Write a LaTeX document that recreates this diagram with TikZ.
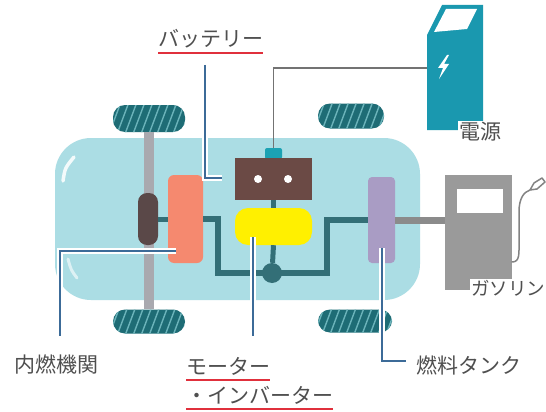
\documentclass[tikz,border=0pt]{standalone}
\usepackage{fontspec}
\setmainfont{Noto Sans CJK JP}
\usetikzlibrary{calc}

\definecolor{bodycyan}{HTML}{ABDDE4}
\definecolor{tire}{HTML}{1E6C75}
\definecolor{tirestripe}{HTML}{6BB3BA}
\definecolor{axlegray}{HTML}{A9A9AF}
\definecolor{gearbox}{HTML}{5A4848}
\definecolor{engine}{HTML}{F5896F}
\definecolor{pipecol}{HTML}{336F77}
\definecolor{batcol}{HTML}{6B4A45}
\definecolor{plugcol}{HTML}{1BA2B3}
\definecolor{motorcol}{HTML}{FFF000}
\definecolor{tankcol}{HTML}{A99CC4}
\definecolor{pumpcol}{HTML}{9A9A9A}
\definecolor{charger}{HTML}{1A98AF}
\definecolor{leadblue}{HTML}{3C6B98}
\definecolor{ulred}{HTML}{E0303C}
\definecolor{labelgray}{HTML}{4F4F4F}

\tikzset{
  tirebox/.style={rectangle, rounded corners=12pt, fill=tire, inner sep=0pt,
    path picture={\foreach \i in {-36,-28,...,80}
      \draw[tirestripe, line width=1.4pt]
        ($(path picture bounding box.south west)+(\i pt,-2pt)$) -- ++(12pt,32pt);}},
  blockbox/.style={rectangle, inner sep=0pt, draw=none},
  axlebar/.style={draw=axlegray, line width=10pt},
  pipeline/.style={draw=pipecol, line width=6pt, line join=miter},
  shortlink/.style={draw=pipecol, line width=5pt},
  gaspipe/.style={draw=pumpcol!90!black, line width=7pt},
  hose/.style={draw=pumpcol!85!black, line width=1.5pt, line cap=round},
  wire/.style={draw=black!55, line width=1.3pt},
  leader/.style={draw=leadblue, line width=2.6pt,
    preaction={draw=white, line width=5.6pt}},
  lbl/.style={text=labelgray, inner sep=0pt, font=\fontsize{21pt}{24pt}\selectfont},
  uline/.style={draw=ulred, line width=2.4pt},
  dot/.style={circle, fill=white, minimum size=8pt, inner sep=0pt}
}

\begin{document}
\begin{tikzpicture}[x=1pt, y=-1pt]
\useasboundingbox (0,0) rectangle (546,412);
\fill[white] (0,0) rectangle (546,412);

% car body with glints on the nose
\fill[bodycyan, rounded corners=36pt] (55,138) rectangle (420,300);
\draw[white!85!bodycyan, line width=3.5pt, line cap=round] (63,181) .. controls (65,168) .. (74,157);
\draw[white!60!bodycyan, line width=3pt, line cap=round] (68,259) .. controls (71,270) .. (77,278);

% wheels
\node[tirebox, minimum width=72pt, minimum height=27pt] (tireTL) at (149,118.5) {};
\node[tirebox, minimum width=72pt, minimum height=24pt] (tireBL) at (149,321.5) {};
\node[tirebox, minimum width=66pt, minimum height=25pt] (tireTR) at (351,116) {};
\node[tirebox, minimum width=74pt, minimum height=23pt] (tireBR) at (355,321) {};

% front axle
\draw[axlebar] (tireTL.south) -- (tireBL.north);

% engine and gearbox
\node[blockbox, fill=gearbox, rounded corners=9pt, minimum width=20pt, minimum height=52pt] (gear) at (148,219) {};
\node[blockbox, fill=engine, rounded corners=6pt, minimum width=35pt, minimum height=88pt] (ice) at (185.5,219) {};
\draw[shortlink] (gear.east) -- (ice.west);

% battery, motor and junction
\node[blockbox, fill=plugcol, rounded corners=2pt, minimum width=17pt, minimum height=11pt] (plug) at (273.5,153.5) {};
\node[blockbox, fill=batcol, minimum width=77pt, minimum height=42pt] (bat) at (273.5,179) {};
\node[dot] (dotL) at (258,179) {};
\node[dot] (dotR) at (288,179) {};
\node[blockbox, fill=motorcol, rounded corners=13pt, minimum width=77pt, minimum height=37pt] (mot) at (273.5,226.5) {};
\node[circle, fill=pipecol, minimum size=20pt, inner sep=0pt] (jn) at (272,273) {};
\draw[shortlink] (bat.south) -- (mot.north);
\draw[shortlink] (mot.south) -- (jn);

% fuel tank
\node[blockbox, fill=tankcol, rounded corners=4pt, minimum width=27pt, minimum height=86pt] (tank) at (381.5,220) {};

% drive pipes
\draw[pipeline] (ice.east) -- (218,219) -- (218,273) -- (jn.center);
\draw[pipeline] (jn.center) -- (327,273) -- (327,220) -- (tank.west);

% gasoline pump
\node[blockbox, fill=pumpcol, minimum width=67pt, minimum height=115pt] (pump) at (478.5,232.5) {};
\node[blockbox, fill=white, minimum width=46pt, minimum height=24pt] (win) at (480,201) {};
\draw[gaspipe] (tank.east) -- (tank.east -| pump.west);
\coordinate (hoseA) at (512,262);
\coordinate (hoseB) at (530,190);
\draw[hose] (hoseA) .. controls (520,262) and (519,254) .. (519,240) -- (519,212)
  .. controls (519,198) and (524,192) .. (hoseB);
\draw[hose, line join=round] (hoseB) -- (534,183) -- (542,178) -- (545,182) -- (537,189) -- cycle;

% charging station
\fill[charger] (427,35) -- (442,5) -- (483,5) -- (483,130) -- (427,130) -- cycle;
\fill[white] (446,9) -- (477,9) -- (467,29) -- (434,32) -- cycle;
\fill[white] (447,55) -- (438,68) -- (443,68) -- (439,79) -- (449,64) -- (444,64) -- (449,55) -- cycle;
\coordinate (chgport) at (427,68);
\draw[wire] (chgport) -| (plug.north);

% leader lines
\coordinate (batLeadTop) at (205,65);
\coordinate (batLeadEnd) at (222,178);
\draw[leader] (batLeadTop) |- (batLeadEnd);
\coordinate (iceLeadStart) at (176,251);
\coordinate (iceLeadEnd) at (60,336);
\draw[leader] (iceLeadStart) -| (iceLeadEnd);
\coordinate (motLeadStart) at (253,237);
\coordinate (motLeadEnd) at (253,336);
\draw[leader] (motLeadStart) -- (motLeadEnd);
\coordinate (tankLeadStart) at (382,248);
\coordinate (tankLeadEnd) at (406,361);
\draw[leader] (tankLeadStart) |- (tankLeadEnd);

% labels
\node[lbl, anchor=base west] (lbBat) at (158,47) {バッテリー};
\draw[uline] ($(lbBat.base west)+(0,6)$) -- ($(lbBat.base east)+(0,6)$);
\node[lbl, fill=white, inner sep=1pt] (lbPow) at (480,132) {電源};
\node[lbl, fill=white, inner sep=1pt, anchor=west, font=\fontsize{18.5pt}{22pt}\selectfont] (lbGas) at (470,288) {ガソリン};
\node[lbl, anchor=base west] (lbIce) at (14,372) {内燃機関};
\node[lbl, anchor=base west] (lbTank) at (416,373) {燃料タンク};
\node[lbl, anchor=base west] (lbMot) at (186,374) {モーター};
\draw[uline] ($(lbMot.base west)+(0,6)$) -- ($(lbMot.base east)+(0,6)$);
\node[lbl, anchor=base west] (lbInv) at (186,403) {・インバーター};
\draw[uline] ($(lbInv.base west)+(0,6)$) -- ($(lbInv.base east)+(0,6)$);
\end{tikzpicture}
\end{document}
